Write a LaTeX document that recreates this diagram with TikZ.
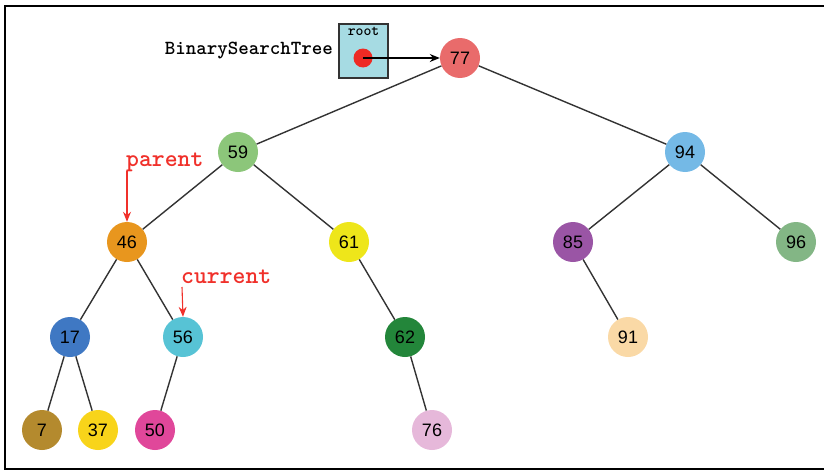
\documentclass[tikz,border=0pt]{standalone}
\usepackage{fontspec}
\setmainfont{Liberation Sans}
\usetikzlibrary{arrows.meta}
\definecolor{c77}{HTML}{E96B6B}
\definecolor{c59}{HTML}{8CC67A}
\definecolor{c94}{HTML}{74B9E6}
\definecolor{c46}{HTML}{E8961E}
\definecolor{c61}{HTML}{EEE61A}
\definecolor{c85}{HTML}{9A55A5}
\definecolor{c96}{HTML}{83B685}
\definecolor{c17}{HTML}{3F78C3}
\definecolor{c56}{HTML}{57C3D5}
\definecolor{c62}{HTML}{23863A}
\definecolor{c91}{HTML}{FAD9A6}
\definecolor{c7}{HTML}{B48A2E}
\definecolor{c37}{HTML}{F8D41A}
\definecolor{c50}{HTML}{E0479A}
\definecolor{c76}{HTML}{E6B8DA}
\definecolor{boxblue}{HTML}{A6DBE3}
\definecolor{dotred}{HTML}{EE2A24}
\definecolor{labelred}{HTML}{F0302A}
\definecolor{edgegray}{HTML}{333333}
\begin{document}
\begin{tikzpicture}[x=1pt,y=-1pt,
  treenode/.style={circle,minimum size=40pt,inner sep=0pt,draw=none,
    font=\fontsize{18}{18}\selectfont},
  edge/.style={draw=edgegray,line width=1.4pt},
  pointer/.style={draw=labelred,line width=1.1pt,-{Stealth[length=10pt,width=8pt]}},
  redlabel/.style={text=labelred,font=\ttfamily\bfseries\fontsize{24.5}{24.5}\selectfont,inner sep=0pt}]
\useasboundingbox (0,0) rectangle (824,471);
% outer frame
\draw[line width=2pt] (830,5.5) -- (4.5,5.5) -- (4.5,469) -- (830,469);

% tree nodes
\node[treenode,fill=c77] (n77) at (460,58) {77};
\node[treenode,fill=c59] (n59) at (238,152) {59};
\node[treenode,fill=c94] (n94) at (685,152) {94};
\node[treenode,fill=c46] (n46) at (127,242) {46};
\node[treenode,fill=c61] (n61) at (349,242) {61};
\node[treenode,fill=c85] (n85) at (573,242) {85};
\node[treenode,fill=c96] (n96) at (796,242) {96};
\node[treenode,fill=c17] (n17) at (70,337) {17};
\node[treenode,fill=c56] (n56) at (183,337) {56};
\node[treenode,fill=c62] (n62) at (405,337) {62};
\node[treenode,fill=c91] (n91) at (628,337) {91};
\node[treenode,fill=c7]  (n7)  at (42,430) {7};
\node[treenode,fill=c37] (n37) at (98,430) {37};
\node[treenode,fill=c50] (n50) at (155,430) {50};
\node[treenode,fill=c76] (n76) at (432,430) {76};

% tree edges
\draw[edge] (n77) -- (n59);
\draw[edge] (n77) -- (n94);
\draw[edge] (n59) -- (n46);
\draw[edge] (n59) -- (n61);
\draw[edge] (n94) -- (n85);
\draw[edge] (n94) -- (n96);
\draw[edge] (n46) -- (n17);
\draw[edge] (n46) -- (n56);
\draw[edge] (n61) -- (n62);
\draw[edge] (n85) -- (n91);
\draw[edge] (n17) -- (n7);
\draw[edge] (n17) -- (n37);
\draw[edge] (n56) -- (n50);
\draw[edge] (n62) -- (n76);

% root reference box
\node[draw=edgegray,line width=1.2pt,fill=boxblue,minimum width=49pt,minimum height=54pt,inner sep=0pt] (rootbox) at (363.5,51) {};
\node[font=\ttfamily\bfseries\fontsize{15}{15}\selectfont,inner sep=0pt] (rootlbl) at (363.5,31) {root};
\node[circle,fill=dotred,minimum size=19pt,inner sep=0pt] (rootdot) at (363,58) {};
\node[font=\ttfamily\bfseries\fontsize{20}{20}\selectfont,anchor=east,inner sep=0pt] (bstname) at (333,50) {BinarySearchTree};
\draw[draw=black,line width=1.3pt,-{Stealth[length=10pt,width=8pt]}] (rootdot.center) -- (n77);

% parent / current markers
\node[redlabel,anchor=west] (parentlbl) at (126,162) {parent};
\coordinate (parentstart) at (127,171);
\draw[pointer] (parentstart) -- (n46.north);
\node[redlabel,anchor=west] (currentlbl) at (181,277) {current};
\coordinate (currentstart) at (182,287);
\draw[pointer] (currentstart) -- (n56.north);
\end{tikzpicture}
\end{document}
